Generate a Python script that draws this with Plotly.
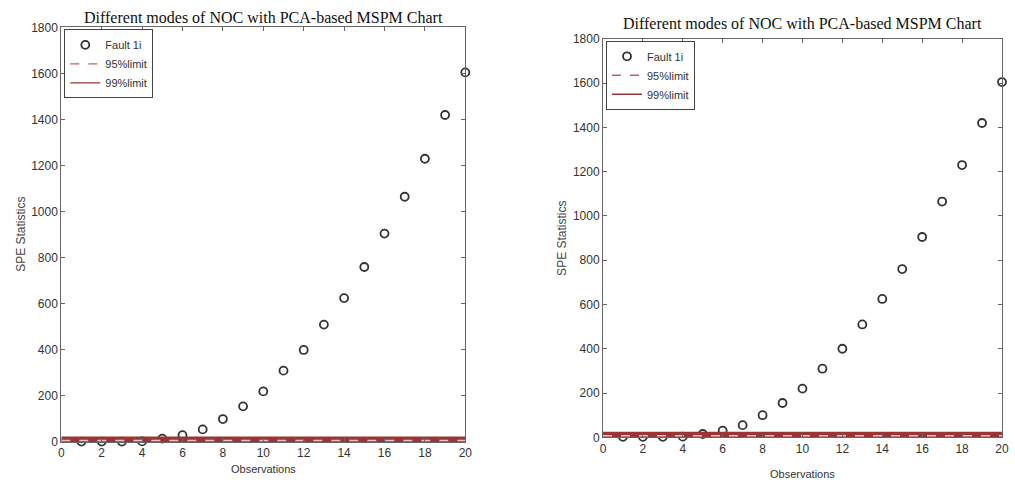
import plotly.graph_objects as go

# Observation index and SPE statistic for Fault 1i
observations = list(range(1, 21))
spe_values = [2, 2, 2, 3, 15, 30, 55, 100, 155, 220, 310, 400, 510, 625, 760, 905, 1065, 1230, 1420, 1605]

# Control limits
limit_95 = 6
limit_99 = 9

x_ticks = [0, 2, 4, 6, 8, 10, 12, 14, 16, 18, 20]
y_ticks = [0, 200, 400, 600, 800, 1000, 1200, 1400, 1600, 1800]

title_text = "Different modes of NOC with PCA-based MSPM Chart"

panels = [
    dict(xd=[0.058, 0.460], yd=[0.086, 0.957], ty=0.978, xty=0.030, ytx=0.018, lx=0.061, ly=0.953),
    dict(xd=[0.597, 0.994], yd=[0.096, 0.933], ty=0.965, xty=0.018, ytx=0.556, lx=0.600, ly=0.929),
]

fig = go.Figure()
tick_font = dict(family="Liberation Sans, Arial", size=12, color="#333")

for i, p in enumerate(panels):
    n = i + 1
    xa = "x" if n == 1 else f"x{n}"
    ya = "y" if n == 1 else f"y{n}"
    lg = "legend" if n == 1 else f"legend{n}"

    fig.add_trace(go.Scatter(
        x=observations, y=spe_values, mode="markers", name="Fault 1i",
        marker=dict(symbol="circle-open", size=8, color="#333", line=dict(width=1.8)),
        xaxis=xa, yaxis=ya, legend=lg, cliponaxis=False,
    ))
    fig.add_trace(go.Scatter(
        x=[0, 20], y=[limit_95, limit_95], mode="lines", name="95%limit",
        line=dict(color="#c06060", width=1.4, dash="dash"),
        xaxis=xa, yaxis=ya, legend=lg,
    ))
    fig.add_trace(go.Scatter(
        x=[0, 20], y=[limit_99, limit_99], mode="lines", name="99%limit",
        line=dict(color="#9b3535", width=1.4),
        xaxis=xa, yaxis=ya, legend=lg,
    ))
    # overlapping limit lines drawn as a thick band
    fig.add_trace(go.Scatter(
        x=[0, 20], y=[limit_99, limit_99], mode="lines",
        line=dict(color="#9b3535", width=7), showlegend=False, hoverinfo="skip",
        xaxis=xa, yaxis=ya,
    ))
    fig.add_trace(go.Scatter(
        x=[0, 20], y=[limit_95 + 1, limit_95 + 1], mode="lines",
        line=dict(color="#e6c4c4", width=1.5, dash="dash"), showlegend=False, hoverinfo="skip",
        xaxis=xa, yaxis=ya,
    ))

    axis_common = dict(showline=True, linecolor="#666", linewidth=1, mirror="allticks",
                       ticks="inside", ticklen=4, tickcolor="#666", showgrid=False,
                       zeroline=False, tickfont=tick_font)
    fig.update_layout({
        f"xaxis{'' if n == 1 else n}": dict(domain=p["xd"], range=[0, 20], tickvals=x_ticks,
                                            anchor=ya, **axis_common),
        f"yaxis{'' if n == 1 else n}": dict(domain=p["yd"], range=[0, 1800], tickvals=y_ticks,
                                            anchor=xa, **axis_common),
        lg: dict(x=p["lx"], y=p["ly"], xanchor="left", yanchor="top",
                 bordercolor="#444", borderwidth=1, bgcolor="white",
                 font=dict(family="Liberation Sans, Arial", size=11, color="#333"),
                 tracegroupgap=0, itemwidth=30),
    })

    cx = (p["xd"][0] + p["xd"][1]) / 2
    fig.add_annotation(x=cx, y=p["ty"], xref="paper", yref="paper", text=title_text,
                       showarrow=False, xanchor="center", yanchor="middle",
                       font=dict(family="Liberation Serif, Times New Roman", size=16, color="#111"))
    fig.add_annotation(x=cx, y=p["xty"], xref="paper", yref="paper", text="Observations",
                       showarrow=False, xanchor="center", yanchor="middle",
                       font=dict(family="Liberation Sans, Arial", size=11, color="#333"))
    fig.add_annotation(x=p["ytx"], y=(p["yd"][0] + p["yd"][1]) / 2, xref="paper", yref="paper",
                       text="SPE Statistics", textangle=-90, showarrow=False,
                       xanchor="center", yanchor="middle",
                       font=dict(family="Liberation Sans, Arial", size=12, color="#444"))

fig.update_layout(width=1015, height=490, margin=dict(l=0, r=0, t=0, b=0),
                  paper_bgcolor="white", plot_bgcolor="white")

fig.write_html("out.html")
